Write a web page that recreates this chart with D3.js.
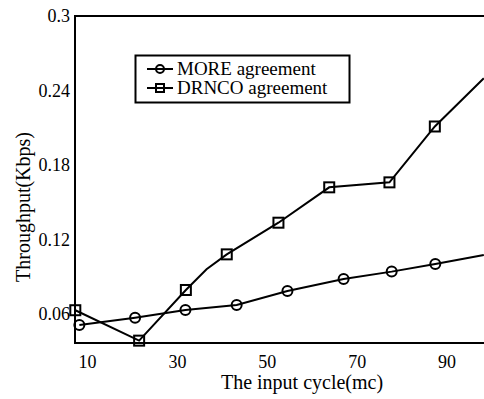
<!DOCTYPE html>
<html>
<head>
<meta charset="utf-8">
<script src="https://cdn.jsdelivr.net/npm/d3@7"></script>
<style>
  body { margin: 0; background: #fff; }
</style>
</head>
<body>
<script>
// values
var xTicks = [10, 30, 50, 70, 90];
var yTicks = [0.06, 0.12, 0.18, 0.24, 0.3];

var moreCycle      = [8.3, 20.7, 31.9, 43.3, 54.6, 67.1, 77.8, 87.5, 98.3];
var moreThroughput = [0.0511, 0.057, 0.0632, 0.0672, 0.0785, 0.0882, 0.0941, 0.1003, 0.1075];
var moreMarked     = [1, 1, 1, 1, 1, 1, 1, 1, 0];

var drncoCycle      = [7.4, 21.6, 32.0, 36.6, 41.1, 52.6, 63.9, 77.3, 87.4, 98.3];
var drncoThroughput = [0.063, 0.0385, 0.0793, 0.096, 0.108, 0.1335, 0.162, 0.166, 0.211, 0.2498];
var drncoMarked     = [1, 1, 1, 0, 1, 1, 1, 1, 1, 0];

var seriesNames = ["MORE agreement", "DRNCO agreement"];

// layout
var width = 484, height = 399;
var margin = {top: 16, right: 0, bottom: 56, left: 75};
var serif = "\"Times New Roman\", Times, \"Liberation Serif\", \"DejaVu Serif\", serif";

var svg = d3.select("body").append("svg")
    .attr("width", width)
    .attr("height", height)
    .attr("font-family", serif);

var x = d3.scaleLinear()
    .domain([7.33, 98.34])
    .range([margin.left, width - margin.right]);

var y = d3.scaleLinear()
    .domain([0.0366, 0.3])
    .range([height - margin.bottom, margin.top]);

// frame: left, bottom, top
svg.append("path")
    .attr("d", "M" + (width) + "," + y(0.3) + "H" + x.range()[0] + "V" + y.range()[0] + "H" + width)
    .attr("fill", "none")
    .attr("stroke", "#000")
    .attr("stroke-width", 2);

// axes without tick marks
var xAxis = svg.append("g")
    .attr("transform", "translate(0," + y.range()[0] + ")")
    .call(d3.axisBottom(x).tickValues(xTicks).tickSize(0).tickPadding(12))
    .attr("font-family", serif)
    .attr("font-size", 18);
xAxis.select(".domain").remove();
xAxis.selectAll("text").attr("fill", "#000");

var yAxis = svg.append("g")
    .attr("transform", "translate(" + (x.range()[0] - 4) + ",0)")
    .call(d3.axisLeft(y).tickValues(yTicks).tickSize(0).tickPadding(1)
        .tickFormat(function(d) { return d3.format("")(+d.toFixed(2)); }))
    .attr("font-family", serif)
    .attr("font-size", 18);
yAxis.select(".domain").remove();
yAxis.selectAll("text").attr("fill", "#000");

// axis titles
svg.append("text")
    .attr("x", 302)
    .attr("y", 389)
    .attr("text-anchor", "middle")
    .attr("font-size", 20)
    .text("The input cycle(mc)");

svg.append("text")
    .attr("transform", "translate(30,207) rotate(-90)")
    .attr("text-anchor", "middle")
    .attr("font-size", 20)
    .text("Throughput(Kbps)");

// lines
var line = d3.line()
    .x(function(d) { return x(d[0]); })
    .y(function(d) { return y(d[1]); });

var more = d3.zip(moreCycle, moreThroughput, moreMarked);
var drnco = d3.zip(drncoCycle, drncoThroughput, drncoMarked);

[more, drnco].forEach(function(s) {
    svg.append("path")
        .datum(s)
        .attr("d", line)
        .attr("fill", "none")
        .attr("stroke", "#000")
        .attr("stroke-width", 2);
});

// markers
svg.selectAll(".circ")
    .data(more.filter(function(d) { return d[2]; }))
    .enter().append("circle")
    .attr("class", "circ")
    .attr("cx", function(d) { return x(d[0]); })
    .attr("cy", function(d) { return y(d[1]); })
    .attr("r", 5)
    .attr("fill", "none")
    .attr("stroke", "#000")
    .attr("stroke-width", 2);

svg.selectAll(".sq")
    .data(drnco.filter(function(d) { return d[2]; }))
    .enter().append("rect")
    .attr("class", "sq")
    .attr("x", function(d) { return x(d[0]) - 5; })
    .attr("y", function(d) { return y(d[1]) - 5; })
    .attr("width", 10)
    .attr("height", 10)
    .attr("fill", "none")
    .attr("stroke", "#000")
    .attr("stroke-width", 2);

// legend
var legend = svg.append("g");
legend.append("rect")
    .attr("x", 135.5)
    .attr("y", 55.5)
    .attr("width", 214)
    .attr("height", 47)
    .attr("fill", "#fff")
    .attr("stroke", "#000")
    .attr("stroke-width", 2);

seriesNames.forEach(function(name, i) {
    var ly = 69 + i * 19;
    legend.append("line")
        .attr("x1", 147).attr("x2", 173)
        .attr("y1", ly).attr("y2", ly)
        .attr("stroke", "#000")
        .attr("stroke-width", 2);
    if (i === 0) {
        legend.append("circle")
            .attr("cx", 160).attr("cy", ly).attr("r", 4)
            .attr("fill", "none").attr("stroke", "#000").attr("stroke-width", 2);
    } else {
        legend.append("rect")
            .attr("x", 156).attr("y", ly - 4).attr("width", 8).attr("height", 8)
            .attr("fill", "none").attr("stroke", "#000").attr("stroke-width", 2);
    }
    legend.append("text")
        .attr("x", 177)
        .attr("y", ly + 6)
        .attr("font-size", 19)
        .text(name);
});
</script>
</body>
</html>
